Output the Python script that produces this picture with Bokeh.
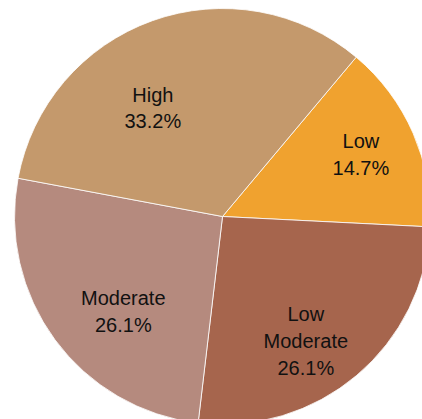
import math
from bokeh.plotting import figure
from bokeh.models import ColumnDataSource
from bokeh.core.properties import value
from bokeh.embed import file_html
from bokeh.resources import INLINE

# Data
categories = ["Low", "Low\nModerate", "Moderate", "High"]
percents = [14.7, 26.1, 26.1, 33.2]
colors = ["#F0A22F", "#A6654D", "#B58A7E", "#C4996C"]

# Layout / style constants
W, H = 422, 419
CX, CY = 222, 216          # pie centre in pixels from top-left of figure
R = 208                    # pie radius (1 data unit = 1 px)
FIRST_ANGLE = 40.0         # degrees clockwise from 12 o'clock
label_r_frac = [0.73, 0.72, 0.66, 0.62]
label_angle_shift = [-0.7, 6.4, -7.4, -13.0]

total = sum(percents)
starts, ends, lx, ly, texts = [], [], [], [], []
acc = FIRST_ANGLE
for i, (c, v) in enumerate(zip(categories, percents)):
    span = v / total * 360.0
    s, e = acc, acc + span
    starts.append(math.radians(90 - s))
    ends.append(math.radians(90 - e))
    mid = (s + e) / 2 + label_angle_shift[i]
    rr = R * label_r_frac[i]
    lx.append(rr * math.sin(math.radians(mid)))
    ly.append(rr * math.cos(math.radians(mid)))
    texts.append(f"{c}\n{v:.1f}%")
    acc = e

src = ColumnDataSource(dict(start=starts, end=ends, color=colors,
                            x=lx, y=ly, text=texts))

p = figure(width=W, height=H, output_backend="svg", toolbar_location=None,
           x_range=(-CX, W - CX), y_range=(-(H - CY), CY),
           min_border=0, min_border_left=0, min_border_right=0,
           min_border_top=0, min_border_bottom=0)
p.axis.visible = False
p.grid.visible = False
p.outline_line_color = None
p.background_fill_color = "white"
p.border_fill_color = "white"

p.wedge(x=0, y=0, radius=R, start_angle="start", end_angle="end",
        direction="clock", fill_color="color", line_color="white",
        line_width=0.8, source=src)

p.text(x="x", y="y", text="text", source=src,
       text_font=value("Liberation Sans"), text_font_size="20px",
       text_align="center", text_baseline="middle",
       text_line_height=1.22, text_color="#111111")

open("out.html", "w").write(file_html(p, INLINE))
